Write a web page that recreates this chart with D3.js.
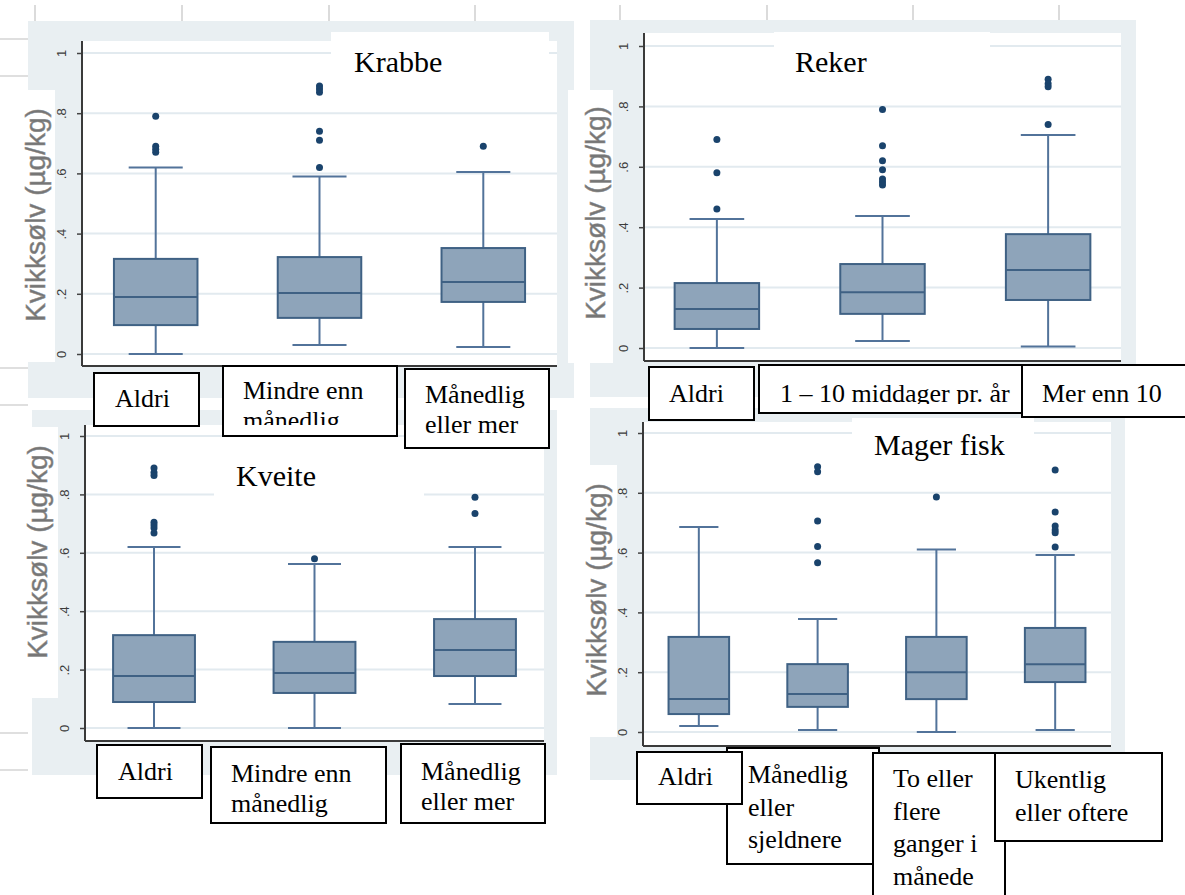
<!DOCTYPE html>
<html>
<head>
<meta charset="utf-8">
<script src="https://cdn.jsdelivr.net/npm/d3@7"></script>
<style>
  body { margin: 0; background: #fff; }
  svg { display: block; }
  .cat-label { font-family: "Liberation Serif", "DejaVu Serif", "Times New Roman", serif; font-size: 26px; fill: #000; }
  .panel-title { font-family: "Liberation Serif", "DejaVu Serif", "Times New Roman", serif; font-size: 30px; fill: #000; }
  .y-title { font-family: "Liberation Sans", Arial, sans-serif; font-size: 28px; fill: #767676; stroke: #8a8a8a; stroke-width: 0.5px; }
  .axis text { font-family: "Liberation Sans", Arial, sans-serif; font-size: 13px; fill: #3c3c3c; }
</style>
</head>
<body>
<svg id="chart" width="1185" height="895"></svg>
<script>
// ── Data ────────────────────────────────────────────────────────────────

const yTicks = [0, 0.2, 0.4, 0.6, 0.8, 1];
const yTitle = 'Kvikksølv (µg/kg)';

// Krabbe
const krabbeCats   = ['Aldri', 'Mindre enn månedlig', 'Månedlig eller mer'];
const krabbeLabels = [['Aldri'], ['Mindre enn', 'månedlig'], ['Månedlig', 'eller mer']];
const krabbeLow    = [0.000, 0.030, 0.023];
const krabbeQ1     = [0.096, 0.120, 0.173];
const krabbeMed    = [0.189, 0.203, 0.239];
const krabbeQ3     = [0.316, 0.322, 0.352];
const krabbeHigh   = [0.620, 0.590, 0.605];
const krabbeOut    = [[0.79, 0.69, 0.68, 0.67], [0.89, 0.88, 0.87, 0.74, 0.71, 0.62], [0.69]];

// Reker
const rekerCats   = ['Aldri', '1 – 10 middager pr. år', 'Mer enn 10'];
const rekerLabels = [['Aldri'], ['1 – 10 middager pr. år'], ['Mer enn 10']];
const rekerLow    = [0.000, 0.023, 0.005];
const rekerQ1     = [0.063, 0.113, 0.159];
const rekerMed    = [0.129, 0.185, 0.258];
const rekerQ3     = [0.215, 0.278, 0.377];
const rekerHigh   = [0.427, 0.437, 0.705];
const rekerOut    = [[0.69, 0.58, 0.46], [0.79, 0.67, 0.62, 0.59, 0.56, 0.55, 0.54], [0.89, 0.875, 0.865, 0.74]];

// Kveite
const kveiteCats   = ['Aldri', 'Mindre enn månedlig', 'Månedlig eller mer'];
const kveiteLabels = [['Aldri'], ['Mindre enn', 'månedlig'], ['Månedlig', 'eller mer']];
const kveiteLow    = [0.000, 0.000, 0.082];
const kveiteQ1     = [0.089, 0.120, 0.178];
const kveiteMed    = [0.178, 0.188, 0.267];
const kveiteQ3     = [0.318, 0.295, 0.373];
const kveiteHigh   = [0.620, 0.562, 0.620];
const kveiteOut    = [[0.89, 0.875, 0.865, 0.705, 0.695, 0.685, 0.668], [0.58], [0.79, 0.735]];

// Mager fisk
const magerCats   = ['Aldri', 'Månedlig eller sjeldnere', 'To eller flere ganger i månede', 'Ukentlig eller oftere'];
const magerLabels = [['Aldri'], ['Månedlig', 'eller', 'sjeldnere'], ['To eller', 'flere', 'ganger i', 'månede'], ['Ukentlig', 'eller oftere']];
const magerLow    = [0.020, 0.007, 0.000, 0.007];
const magerQ1     = [0.060, 0.084, 0.110, 0.167];
const magerMed    = [0.110, 0.127, 0.200, 0.227];
const magerQ3     = [0.318, 0.227, 0.318, 0.348];
const magerHigh   = [0.686, 0.378, 0.610, 0.592];
const magerOut    = [[], [0.887, 0.87, 0.706, 0.62, 0.566], [0.786], [0.876, 0.736, 0.689, 0.676, 0.666, 0.619]];

const panelTitles = ['Krabbe', 'Reker', 'Kveite', 'Mager fisk'];

// ── Layout (pasted-together figure, so each panel has its own frame) ────

const panels = [
  {
    title: panelTitles[0], cats: krabbeCats, labels: krabbeLabels,
    low: krabbeLow, q1: krabbeQ1, med: krabbeMed, q3: krabbeQ3, high: krabbeHigh, out: krabbeOut,
    bg: [28, 21, 574, 398], plot: [82, 41, 557, 366], y0: 354, y1: 53, pad: 0.45,
    titleBox: [331, 32, 549, 100], titlePos: [354, 72],
    yLab: [35, 215], yLabBox: [18, 90, 55, 362],
    labelBoxes: [
      { x: 94,  y: 373, w: 105, h: 53, tx: 21, ty: 34 },
      { x: 223, y: 366, w: 174, h: 70, tx: 20, ty: 33, clip: 59 },
      { x: 405, y: 369, w: 144, h: 79, tx: 20, ty: 34 }
    ],
    order: [0, 1, 2], lh: 30
  },
  {
    title: panelTitles[1], cats: rekerCats, labels: rekerLabels,
    low: rekerLow, q1: rekerQ1, med: rekerMed, q3: rekerQ3, high: rekerHigh, out: rekerOut,
    bg: [590, 20, 1136, 397], plot: [644, 33, 1121, 361], y0: 348, y1: 46, pad: 0.44,
    titleBox: [774, 32, 990, 95], titlePos: [795, 72],
    yLab: [595, 213], yLabBox: [568, 90, 613, 363],
    labelBoxes: [
      { x: 649,  y: 367, w: 105, h: 53, tx: 20, ty: 35 },
      { x: 759,  y: 365, w: 263, h: 48, tx: 21, ty: 37, clip: 39 },
      { x: 1022, y: 365, w: 172, h: 52, tx: 20, ty: 37 }
    ],
    order: [0, 1, 2], lh: 30
  },
  {
    title: panelTitles[2], cats: kveiteCats, labels: kveiteLabels,
    low: kveiteLow, q1: kveiteQ1, med: kveiteMed, q3: kveiteQ3, high: kveiteHigh, out: kveiteOut,
    bg: [32, 410, 557, 775], plot: [85, 425, 544, 741], y0: 728, y1: 436, pad: 0.43,
    titleBox: [214, 445, 424, 498], titlePos: [236, 486],
    yLab: [37, 552], yLabBox: [0, 427, 58, 698],
    labelBoxes: [
      { x: 97,  y: 745, w: 105, h: 53, tx: 21, ty: 35 },
      { x: 211, y: 747, w: 175, h: 76, tx: 20, ty: 35, clip: 71 },
      { x: 401, y: 744, w: 144, h: 79, tx: 20, ty: 36 }
    ],
    order: [0, 1, 2], lh: 30
  },
  {
    title: panelTitles[3], cats: magerCats, labels: magerLabels,
    low: magerLow, q1: magerQ1, med: magerMed, q3: magerQ3, high: magerHigh, out: magerOut,
    bg: [590, 408, 1125, 780], plot: [643, 422, 1111, 746], y0: 732, y1: 433, pad: 0.47,
    titleBox: [852, 418, 1034, 470], titlePos: [874, 455],
    yLab: [596, 590], yLabBox: [570, 465, 617, 737],
    labelBoxes: [
      { x: 637, y: 752, w: 105, h: 52,  tx: 21, ty: 33 },
      { x: 727, y: 748, w: 152, h: 116, tx: 21, ty: 35 },
      { x: 873, y: 753, w: 132, h: 150, tx: 20, ty: 34 },
      { x: 995, y: 753, w: 167, h: 88,  tx: 20, ty: 35 }
    ],
    order: [1, 0, 2, 3], lh: 32.5
  }
];

// faint table lines from the document behind the pictures
const tableVLines = [35, 182, 329, 475, 620, 767, 913, 1059];
const tableHLines = [39, 76, 368, 405, 733, 770];

const BG_COL     = '#e9eff2';
const GRID_COL   = '#e2eaef';
const BOX_FILL   = '#8ea4ba';
const BOX_STROKE = '#3f6184';
const WHISK_COL  = '#52739a';
const DOT_COL    = '#1a436c';

const svg = d3.select('#chart');

// ── Background decoration ───────────────────────────────────────────────

svg.selectAll('.tv')
  .data(tableVLines)
  .join('line')
  .attr('x1', d => d).attr('x2', d => d)
  .attr('y1', 5).attr('y2', 21)
  .attr('stroke', '#cfcfcf').attr('stroke-width', 1.5);

svg.selectAll('.th')
  .data(tableHLines)
  .join('line')
  .attr('x1', 0).attr('x2', 28)
  .attr('y1', d => d).attr('y2', d => d)
  .attr('stroke', '#d4d4d4').attr('stroke-width', 1.5);

// ── Panels ──────────────────────────────────────────────────────────────

const tickFmt = d => d === 0 ? '0' : d === 1 ? '1' : d3.format('.1f')(d).replace(/^0/, '');

function drawPanel(p) {
  const g = svg.append('g');
  const [px0, py0, px1, py1] = p.plot;

  g.append('rect')
    .attr('x', p.bg[0]).attr('y', p.bg[1])
    .attr('width', p.bg[2] - p.bg[0]).attr('height', p.bg[3] - p.bg[1])
    .attr('fill', BG_COL);

  g.append('rect')
    .attr('x', px0).attr('y', py0)
    .attr('width', px1 - px0).attr('height', py1 - py0)
    .attr('fill', '#fff');

  const x = d3.scalePoint().domain(p.cats).range([px0, px1]).padding(p.pad);
  const y = d3.scaleLinear().domain([0, 1]).range([p.y0, p.y1]);

  // Grid
  g.selectAll('.grid')
    .data(yTicks)
    .join('line')
    .attr('x1', px0).attr('x2', px1)
    .attr('y1', d => y(d)).attr('y2', d => y(d))
    .attr('stroke', GRID_COL).attr('stroke-width', 2);

  // white patch under the pasted title
  g.append('rect')
    .attr('x', p.titleBox[0]).attr('y', p.titleBox[1])
    .attr('width', p.titleBox[2] - p.titleBox[0]).attr('height', p.titleBox[3] - p.titleBox[1])
    .attr('fill', '#fff');

  const boxes = p.cats.map((c, i) => ({
    c, lo: p.low[i], q1: p.q1[i], med: p.med[i], q3: p.q3[i], hi: p.high[i], out: p.out[i]
  }));
  const bw = x.step() * 0.51;
  const cw = x.step() * 0.33;

  const bg = g.selectAll('.box').data(boxes).join('g');

  // whiskers
  bg.append('line')
    .attr('x1', d => x(d.c)).attr('x2', d => x(d.c))
    .attr('y1', d => y(d.hi)).attr('y2', d => y(d.q3))
    .attr('stroke', WHISK_COL).attr('stroke-width', 2);
  bg.append('line')
    .attr('x1', d => x(d.c)).attr('x2', d => x(d.c))
    .attr('y1', d => y(d.q1)).attr('y2', d => y(d.lo))
    .attr('stroke', WHISK_COL).attr('stroke-width', 2);
  ['hi', 'lo'].forEach(k => {
    bg.append('line')
      .attr('x1', d => x(d.c) - cw / 2).attr('x2', d => x(d.c) + cw / 2)
      .attr('y1', d => y(d[k])).attr('y2', d => y(d[k]))
      .attr('stroke', WHISK_COL).attr('stroke-width', 2);
  });

  // box + median
  bg.append('rect')
    .attr('x', d => x(d.c) - bw / 2)
    .attr('y', d => y(d.q3))
    .attr('width', bw)
    .attr('height', d => y(d.q1) - y(d.q3))
    .attr('fill', BOX_FILL)
    .attr('stroke', BOX_STROKE)
    .attr('stroke-width', 2);
  bg.append('line')
    .attr('x1', d => x(d.c) - bw / 2).attr('x2', d => x(d.c) + bw / 2)
    .attr('y1', d => y(d.med)).attr('y2', d => y(d.med))
    .attr('stroke', BOX_STROKE).attr('stroke-width', 2);

  // outliers
  bg.selectAll('circle')
    .data(d => d.out.map(v => ({ c: d.c, v })))
    .join('circle')
    .attr('cx', d => x(d.c))
    .attr('cy', d => y(d.v))
    .attr('r', 3.5)
    .attr('fill', DOT_COL);

  // y axis (rotated tick labels, Stata style)
  const ax = g.append('g')
    .attr('class', 'axis')
    .attr('transform', `translate(${px0},0)`)
    .call(d3.axisLeft(y).tickValues(yTicks).tickSize(5).tickFormat(tickFmt));
  ax.select('.domain').remove();
  ax.selectAll('.tick line').attr('stroke', '#444').attr('stroke-width', 1.5);
  ax.selectAll('.tick text')
    .attr('x', 0).attr('dy', 0)
    .attr('text-anchor', 'middle')
    .attr('transform', 'translate(-16,0) rotate(-90)');

  // axis lines
  g.append('line')
    .attr('x1', px0).attr('x2', px0).attr('y1', py0).attr('y2', py1)
    .attr('stroke', '#3a3a3a').attr('stroke-width', 2);
  g.append('line')
    .attr('x1', px0).attr('x2', px1).attr('y1', py1).attr('y2', py1)
    .attr('stroke', '#3a3a3a').attr('stroke-width', 2);

  // title
  g.append('text')
    .attr('class', 'panel-title')
    .attr('x', p.titlePos[0]).attr('y', p.titlePos[1])
    .text(p.title);

  // y title on its white patch
  g.append('rect')
    .attr('x', p.yLabBox[0]).attr('y', p.yLabBox[1])
    .attr('width', p.yLabBox[2] - p.yLabBox[0]).attr('height', p.yLabBox[3] - p.yLabBox[1])
    .attr('fill', '#fff');
  g.append('text')
    .attr('class', 'y-title')
    .attr('text-anchor', 'middle')
    .attr('dy', '0.35em')
    .attr('transform', `translate(${p.yLab[0]},${p.yLab[1]}) rotate(-90)`)
    .text(yTitle);
}

// category text boxes pasted under each plot
function drawLabels(p, pi) {
  p.order.forEach(i => {
    const b = p.labelBoxes[i];
    const id = `clip-${pi}-${i}`;
    svg.append('clipPath').attr('id', id)
      .append('rect')
      .attr('x', b.x + 1).attr('y', b.y + 1)
      .attr('width', b.w - 2).attr('height', (b.clip || b.h) - 1);
    const g = svg.append('g');
    g.append('rect')
      .attr('x', b.x).attr('y', b.y)
      .attr('width', b.w).attr('height', b.h)
      .attr('fill', '#fff')
      .attr('stroke', '#000')
      .attr('stroke-width', 2);
    g.append('g').attr('clip-path', `url(#${id})`)
      .selectAll('text')
      .data(p.labels[i])
      .join('text')
      .attr('class', 'cat-label')
      .attr('x', b.x + b.tx)
      .attr('y', (d, j) => b.y + b.ty + j * p.lh)
      .text(d => d);
  });
}

panels.forEach(drawPanel);
panels.forEach(drawLabels);
</script>
</body>
</html>
